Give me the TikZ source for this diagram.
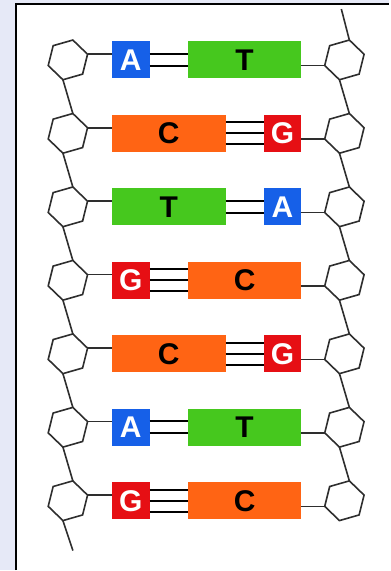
\documentclass[tikz,border=0pt]{standalone}
\usepackage{fontspec}
\setmainfont{Liberation Sans}
\usetikzlibrary{
	positioning,
	shapes.geometric,
}
\definecolor{PageBlue}{HTML}{E6E9F7}
\definecolor{BaseA}{HTML}{1660E8}
\definecolor{BaseT}{HTML}{46C81E}
\definecolor{BaseC}{HTML}{FF6414}
\definecolor{BaseG}{HTML}{E60F14}
\definecolor{Backbone}{HTML}{2E2E2E}

\begin{document}
\begin{tikzpicture}[
		x=1pt, y=1pt,
		sugar/.style = {regular polygon, regular polygon sides=6,
			regular polygon rotate=16, draw=Backbone, line width=1.6pt,
			inner sep=0pt, outer sep=0pt, minimum size=41pt},
		link/.style = {draw=Backbone, line width=1.6pt},
		bond/.style = {draw=black, line width=2pt},
		base/.style = {rectangle, minimum height=37pt, inner sep=0pt,
			outer sep=0pt, font=\fontsize{30}{30}\selectfont\bfseries},
		purine/.style = {base, minimum width=38pt, text=white},
		pyrimidine/.style = {base, minimum width=114pt, text=black},
		nucA/.style = {purine, fill=BaseA},
		nucG/.style = {purine, fill=BaseG},
		nucT/.style = {pyrimidine, fill=BaseT},
		nucC/.style = {pyrimidine, fill=BaseC},
	]
	% page and frame
	\fill[PageBlue] (0,0) rectangle (390,-571);
	\fill[white] (16,-4) rectangle (390,-571);
	\draw[line width=2pt] (16,-571) |- (390,-4);
	% base pairs, one row each
	\foreach \l/\r/\n [count=\i] in {A/T/2,C/G/3,T/A/2,G/C/3,C/G/3,A/T/2,G/C/3}{
		\pgfmathsetmacro\y{-60-73.6*(\i-1)}
		\node[sugar] (L\i) at (68,\y) {};
		\node[sugar] (R\i) at (345,\y) {};
		\node[nuc\l, anchor=west] (l\i) at (112,\y) {\l};
		\node[nuc\r, anchor=east] (r\i) at (302,\y) {\r};
		\draw[link] (L\i.16) -- (L\i.16 -| l\i.west);
		\draw[link] (r\i.east |- R\i.196) -- (R\i.196);
		\ifnum\n=2
			\foreach \d in {-6,6}
				\draw[bond] ([yshift=\d pt]l\i.east) -- ([yshift=\d pt]r\i.west);
		\else
			\foreach \d in {-11,0,11}
				\draw[bond] ([yshift=\d pt]l\i.east) -- ([yshift=\d pt]r\i.west);
		\fi
	}
	% sugar backbones
	\foreach \i [evaluate=\i as \j using int(\i+1)] in {1,...,6}{
		\draw[link] (L\i.256) -- (L\j.76);
		\draw[link] (R\i.256) -- (R\j.76);
	}
	\coordinate[above left=31pt and 8pt of R1.76] (R0);
	\coordinate[below right=30pt and 10pt of L7.256] (L8);
	\draw[link] (R1.76) -- (R0);
	\draw[link] (L7.256) -- (L8);
\end{tikzpicture}
\end{document}
